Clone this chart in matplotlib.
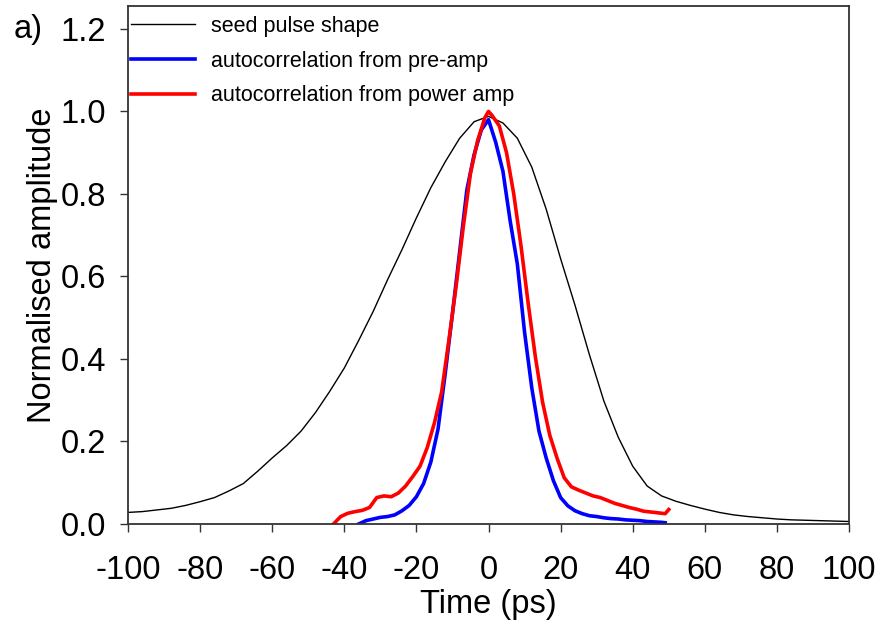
import matplotlib
matplotlib.use("Agg")
import matplotlib.pyplot as plt

plt.rcParams["font.family"] = ["Liberation Sans", "DejaVu Sans"]
plt.rcParams["axes.unicode_minus"] = False

# seed pulse shape (black)
seed_t = [-100, -96, -92, -88, -84, -80, -76, -72, -68, -64, -60, -56, -52, -48,
          -44, -40, -36, -32, -28, -24, -20, -16, -12, -8, -4, 0, 4, 8, 12, 16,
          20, 24, 28, 32, 36, 40, 44, 48, 52, 56, 60, 64, 68, 72, 76, 80, 84,
          88, 92, 96, 100]
seed_a = [0.028, 0.030, 0.034, 0.038, 0.045, 0.054, 0.064, 0.080, 0.098, 0.128,
          0.160, 0.190, 0.225, 0.270, 0.322, 0.378, 0.445, 0.515, 0.592, 0.665,
          0.742, 0.815, 0.878, 0.935, 0.975, 0.988, 0.972, 0.935, 0.865, 0.763,
          0.643, 0.530, 0.410, 0.298, 0.210, 0.140, 0.092, 0.068, 0.055, 0.045,
          0.036, 0.028, 0.022, 0.018, 0.015, 0.012, 0.010, 0.009, 0.008, 0.007,
          0.006]

# autocorrelation from pre-amp (blue)
pre_t = [-36, -34, -32, -30, -28, -26, -24, -22, -20, -18, -16, -14, -12, -10,
         -8, -6, -4, -2, 0, 2, 4, 6, 8, 10, 12, 14, 16, 18, 20, 22, 24, 26, 28,
         30, 32, 34, 36, 38, 40, 42, 44, 46, 48, 49]
pre_a = [0.0, 0.008, 0.012, 0.016, 0.018, 0.022, 0.032, 0.045, 0.066, 0.098,
         0.150, 0.230, 0.365, 0.510, 0.660, 0.810, 0.895, 0.955, 0.980, 0.925,
         0.855, 0.735, 0.630, 0.465, 0.330, 0.225, 0.160, 0.105, 0.064, 0.044,
         0.032, 0.025, 0.020, 0.018, 0.015, 0.013, 0.012, 0.010, 0.009, 0.008,
         0.006, 0.005, 0.004, 0.003]

# autocorrelation from power amp (red)
pow_t = [-43, -41, -39, -37, -35, -33, -31, -29, -27, -25, -23, -21, -19, -17,
         -15, -13, -11, -9, -7, -5, -3, -1, 0, 1, 3, 5, 7, 9, 11, 13, 15, 17,
         19, 21, 23, 25, 27, 29, 31, 33, 35, 37, 39, 41, 43, 45, 47, 49, 50]
pow_a = [0.0, 0.018, 0.026, 0.030, 0.033, 0.040, 0.064, 0.068, 0.066, 0.075,
         0.092, 0.115, 0.140, 0.185, 0.245, 0.320, 0.445, 0.575, 0.720, 0.850,
         0.930, 0.985, 1.0, 0.990, 0.965, 0.900, 0.800, 0.675, 0.535, 0.405,
         0.295, 0.215, 0.160, 0.112, 0.090, 0.082, 0.075, 0.068, 0.064, 0.057,
         0.050, 0.045, 0.040, 0.036, 0.031, 0.029, 0.027, 0.025, 0.035]

xticks = list(range(-100, 101, 20))
yticks = [0.0, 0.2, 0.4, 0.6, 0.8, 1.0, 1.2]

fig = plt.figure(figsize=(8.79, 6.22), dpi=100)
ax = fig.add_axes([0.1456, 0.1576, 0.8203, 0.8324])

ax.plot(seed_t, seed_a, color="black", lw=1.0, label="seed pulse shape")
ax.plot(pre_t, pre_a, color="#0000ff", lw=2.6, label="autocorrelation from pre-amp")
ax.plot(pow_t, pow_a, color="#ff0000", lw=2.6, label="autocorrelation from power amp")

ax.set_xlim(-100, 100)
ax.set_ylim(0, 1.255)
ax.set_xticks(xticks)
ax.set_yticks(yticks)
ax.set_yticklabels([f"{v:.1f}" for v in yticks])
ax.tick_params(direction="out", length=6, width=1.0, labelsize=23.5,
               top=False, right=False, color="#333333")
ax.tick_params(axis="y", pad=10)
ax.tick_params(axis="x", pad=16.5)
for s in ax.spines.values():
    s.set_linewidth(1.3)
    s.set_color("#333333")

ax.set_xlabel("Time (ps)", fontsize=23.5, labelpad=2)
ax.set_ylabel("Normalised amplitude", fontsize=23.5, labelpad=1.5)

ax.legend(loc="upper left", bbox_to_anchor=(-0.0097, 1.0), frameon=False,
          fontsize=15.5, handlelength=3.0, handletextpad=0.75,
          labelspacing=0.64, borderaxespad=0.0, borderpad=0.45)

fig.text(0.016, 0.953, "a)", fontsize=23.5, ha="left", va="center")

fig.savefig("out.png", dpi=100)
